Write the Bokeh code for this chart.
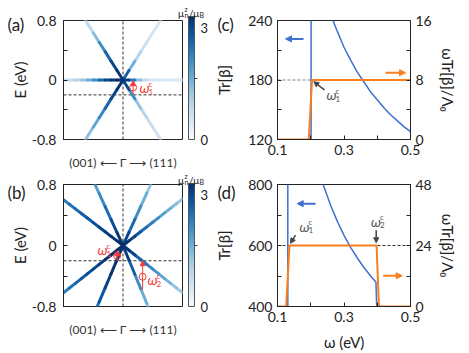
import numpy as np
from bokeh.plotting import figure
from bokeh.models import (ColumnDataSource, LinearColorMapper, ColorBar, FixedTicker,
                          CustomJSTickFormatter, Label, Arrow, NormalHead, LinearAxis, Range1d)
from bokeh.layouts import column, row
from bokeh.transform import transform
from bokeh.embed import file_html
from bokeh.resources import INLINE

FONT = "Lato"
INK = "#222222"
RED = "#f03c3c"
BLUE = "#4070D0"
ORANGE = "#FA7E1E"

# ---------------- data ----------------
k_nodes = [0.0, 0.1, 0.2, 0.3, 0.4, 0.5, 0.6, 0.7, 0.8, 0.9, 1.0]

a_dirs = [-1, -1, -1, 1, 1, 1]
a_slopes = [1.27, -1.27, 0.0, 1.27, -1.27, 0.0]
a_mu = [
    [3.0, 2.9, 2.6, 2.2, 1.6, 1.0, 0.6, 0.5],
    [3.0, 2.9, 2.6, 2.2, 1.8, 1.4, 1.1, 1.0],
    [3.0, 3.0, 2.9, 2.6, 2.1, 1.7, 1.3, 1.0, 0.8, 0.65, 0.6],
    [3.0, 1.9, 1.0, 0.75, 0.6, 0.5, 0.45, 0.45],
    [3.0, 2.4, 1.4, 1.0, 0.8, 0.65, 0.6, 0.6],
    [3.0, 2.7, 1.6, 0.9, 0.6, 0.5, 0.45, 0.4, 0.4, 0.4, 0.4],
]

b_dirs = [-1, -1, -1, -1, 1, 1, 1, 1]
b_slopes = [1.7, 0.6, -0.62, -1.85, 1.72, 0.61, -0.62, -1.9]
b_mu = [
    [3.0, 2.8, 2.5, 2.1, 1.8, 1.6],
    [3.0, 3.0, 2.9, 2.8, 2.7, 2.6, 2.5, 2.4, 2.3, 2.2, 2.1],
    [3.0, 3.0, 3.0, 2.9, 2.8, 2.7, 2.6, 2.5, 2.3, 2.2, 2.0],
    [3.0, 3.0, 2.9, 2.7, 2.4, 2.1],
    [3.0, 2.6, 2.1, 1.7, 1.3, 1.0],
    [3.0, 2.9, 2.7, 2.4, 2.2, 2.0, 1.8, 1.6, 1.4, 1.25, 1.1],
    [3.0, 2.9, 2.6, 2.3, 2.1, 1.9, 1.7, 1.5, 1.3, 1.15, 1.0],
    [3.0, 2.7, 2.2, 1.7, 1.3, 0.9],
]
mu_fermi = -0.2

c_w_edge = [0.201, 0.201]
c_tr_edge = [100, 260]
c_w = [0.262, 0.28, 0.30, 0.32, 0.34, 0.36, 0.38, 0.40, 0.42, 0.44, 0.46, 0.48, 0.50]
c_tr = [244, 229, 213, 200, 188, 178, 168, 160, 152, 145, 139, 133, 128]
c_w_or = [0.1, 0.194, 0.204, 0.5]
c_or = [0, 0, 8, 8]
c_level = 180

d_w_edge = [0.131, 0.131]
d_tr_edge = [380, 820]
d_w = [0.232, 0.24, 0.26, 0.28, 0.30, 0.32, 0.34, 0.36, 0.38, 0.396, 0.399]
d_tr = [819, 792, 731, 679, 633, 594, 559, 528, 500, 480, 380]
d_w_or = [0.1, 0.126, 0.136, 0.398, 0.405, 0.5]
d_or = [0, 0, 24, 24, 0, 0]
d_level = 600

# ---------------- helpers ----------------
blues9 = ['#f7fbff', '#deebf7', '#c6dbef', '#9ecae1', '#6baed6', '#4292c6', '#2171b5', '#08519c', '#08306b']


def make_palette(cols, n=256):
    rgb = np.array([[int(c[i:i + 2], 16) for i in (1, 3, 5)] for c in cols], float)
    t = np.linspace(0, 1, n)
    tp = np.linspace(0, 1, len(cols))
    out = []
    for tt in t:
        r, g, b = (np.interp(tt, tp, rgb[:, j]) for j in range(3))
        out.append('#%02x%02x%02x' % (int(round(r)), int(round(g)), int(round(b))))
    return out


PAL = make_palette(blues9)
mapper = LinearColorMapper(palette=PAL, low=0, high=3)


class Frame:
    def __init__(self, x0, x1, y0, y1, xr, yr):
        self.x0, self.x1, self.y0, self.y1, self.xr, self.yr = x0, x1, y0, y1, xr, yr

    def d(self, X, Y):
        x = self.xr[0] + (X - self.x0) / (self.x1 - self.x0) * (self.xr[1] - self.xr[0])
        y = self.yr[1] - (Y - self.y0) / (self.y1 - self.y0) * (self.yr[1] - self.yr[0])
        return x, y


def txt(p, fr, X, Y, text, size=14, color=INK, style="normal", align="left",
        baseline="middle", angle=0.0):
    x, y = fr.d(X, Y)
    p.add_layout(Label(x=x, y=y, text=text, text_font=FONT, text_font_size=f"{size}px",
                       text_color=color, text_font_style=style, text_align=align,
                       text_baseline=baseline, angle=angle))


def outer_text(p, fr, X, Y, text, size=14, color=INK, style="normal"):
    """Text outside the frame: carried as the title of an invisible 1px colour bar.
    X = left edge of the text, Y = its vertical centre (page pixels)."""
    h = size * 1.2
    cb = ColorBar(color_mapper=mapper, orientation="horizontal", width=1, height=1,
                  padding=0, margin=0,
                  location=(X - fr.x0, fr.y1 - Y - h / 2 - 1 - 0.25 * size),
                  title=text, title_standoff=0, title_text_font=FONT,
                  title_text_font_size=f"{size}px", title_text_color=color,
                  title_text_font_style=style,
                  scale_alpha=0, bar_line_color=None, border_line_color=None,
                  background_fill_alpha=0, ticker=FixedTicker(ticks=[]),
                  major_tick_in=0, major_tick_out=0, label_standoff=0,
                  major_tick_line_color=None, minor_tick_line_color=None,
                  major_label_text_font_size="1px", major_label_text_alpha=0)
    p.add_layout(cb)


def arrow(p, fr, X0, Y0, X1, Y1, color, lw=1.5, hs=6):
    x0, y0 = fr.d(X0, Y0)
    x1, y1 = fr.d(X1, Y1)
    p.add_layout(Arrow(end=NormalHead(size=hs, fill_color=color, line_color=color, line_width=1),
                       x_start=x0, y_start=y0, x_end=x1, y_end=y1,
                       line_color=color, line_width=lw))


def omega_c(p, fr, X, Y, idx, color, size=14):
    txt(p, fr, X, Y, "ω", size=size, color=color, style="italic")
    txt(p, fr, X + 9, Y - 4, "c", size=8, color=color)
    txt(p, fr, X + 9, Y + 4, idx, size=8, color=color)


FMT = CustomJSTickFormatter(code="return tick.toString()")


def style_axis(ax, ticks, minor, standoff=5):
    ax.ticker = FixedTicker(ticks=ticks, minor_ticks=minor)
    ax.formatter = FMT
    ax.major_tick_in = 4
    ax.major_tick_out = 0
    ax.minor_tick_in = 4
    ax.minor_tick_out = 0
    ax.major_tick_line_color = INK
    ax.minor_tick_line_color = INK
    ax.axis_line_color = INK
    ax.major_label_text_font = FONT
    ax.major_label_text_font_size = "14px"
    ax.major_label_text_color = INK
    ax.major_label_standoff = standoff
    ax.axis_label_text_font = FONT
    ax.axis_label_text_font_size = "15px"
    ax.axis_label_text_font_style = "normal"
    ax.axis_label_text_color = INK


def band_fig(height, top, bottom, dirs, slopes, mus, fr, ty):
    p = figure(width=212, height=height, x_range=Range1d(-1, 1), y_range=Range1d(-0.8, 0.8),
               toolbar_location=None, tools="", output_backend="svg",
               min_border_left=63, min_border_right=30, min_border_top=top, min_border_bottom=bottom)
    p.grid.visible = False
    p.outline_line_color = INK
    style_axis(p.yaxis[0], [-0.8, 0, 0.8], [-0.4, 0.4], standoff=7)
    p.yaxis[0].axis_label = "E (eV)"
    p.yaxis[0].axis_label_standoff = 0
    xa = p.xaxis[0]
    xa.ticker = FixedTicker(ticks=[0])
    xa.formatter = CustomJSTickFormatter(code="return '(001) \u27f5 \u0393 \u27f6 (111)'")
    xa.axis_line_color = None
    xa.major_tick_line_color = None
    xa.minor_tick_line_color = None
    xa.major_label_standoff = 9
    xa.major_label_text_font = FONT
    xa.major_label_text_font_size = "12px"
    xa.major_label_text_color = "#333333"
    p.segment(x0=[0, -1], y0=[-0.8, mu_fermi], x1=[0, 1], y1=[0.8, mu_fermi],
              line_color="#333333", line_dash="3 2", line_width=1)
    x0, y0, x1, y1, m = [], [], [], [], []
    for d, s, mu in zip(dirs, slopes, mus):
        for i in range(len(mu) - 1):
            ka, kb = k_nodes[i], k_nodes[i + 1]
            x0.append(d * ka); y0.append(s * ka); x1.append(d * kb); y1.append(s * kb)
            m.append(0.5 * (mu[i] + mu[i + 1]))
    order = np.argsort(m, kind="stable")
    src = ColumnDataSource(dict(x0=np.array(x0)[order], y0=np.array(y0)[order],
                                x1=np.array(x1)[order], y1=np.array(y1)[order],
                                mu=np.array(m)[order]))
    p.segment("x0", "y0", "x1", "y1", source=src, line_color=transform("mu", mapper),
              line_width=3, line_cap="round")
    cb = ColorBar(color_mapper=mapper, location=(125, 0), width=6, height=123, padding=0, margin=0,
                  ticker=FixedTicker(ticks=[], minor_ticks=[1.5]), formatter=FMT,
                  major_tick_in=0, major_tick_out=0, minor_tick_in=0, minor_tick_out=3,
                  minor_tick_line_color="#444444",
                  bar_line_color="#555555", border_line_color=None, background_fill_alpha=0,
                  label_standoff=6, major_label_text_font=FONT,
                  major_label_text_font_size="13px", major_label_text_color=INK, title=None)
    p.add_layout(cb)
    outer_text(p, fr, 200, fr.y0 + 5.5, "3", size=13)
    outer_text(p, fr, 200, fr.y1 - 5.5, "0", size=13)
    outer_text(p, fr, 177.5, ty, "μ", size=10)
    outer_text(p, fr, 184, ty - 2.5, "z", size=7)
    outer_text(p, fr, 184, ty + 3, "n", size=7)
    outer_text(p, fr, 188.5, ty, "/μ", size=10)
    outer_text(p, fr, 199, ty + 3, "B", size=7)
    return p


def resp_fig(height, top, bottom, yr, yr2):
    p = figure(width=257, height=height, x_range=Range1d(0.1, 0.5), y_range=Range1d(*yr),
               toolbar_location=None, tools="", output_backend="svg",
               min_border_left=65, min_border_right=59, min_border_top=top, min_border_bottom=bottom)
    p.grid.visible = False
    p.outline_line_color = INK
    p.extra_y_ranges = {"right": Range1d(*yr2)}
    ax2 = LinearAxis(y_range_name="right")
    p.add_layout(ax2, "right")
    return p


# ---------------- panel (a) ----------------
fa = Frame(63, 182, 20, 143, (-1, 1), (-0.8, 0.8))
pa = band_fig(172, 20, 29, a_dirs, a_slopes, a_mu, fa, 13.5)
outer_text(pa, fa, 7, 24, "(a)", size=17)
ka = 0.17
pa.add_layout(Arrow(end=NormalHead(size=5, fill_color=RED, line_color=RED),
                    x_start=ka, y_start=mu_fermi, x_end=ka, y_end=-0.01, line_color=RED, line_width=1))
pa.scatter([ka], [-0.1], marker="circle", size=7, fill_color=None, line_color=RED, line_width=1)
omega_c(pa, fa, 139, 89.5, "1", RED)

# ---------------- panel (b) ----------------
fb = Frame(63, 182, 184, 307, (-1, 1), (-0.8, 0.8))
pb = band_fig(181, 12, 46, b_dirs, b_slopes, b_mu, fb, 177.5)
outer_text(pb, fb, 7, 189, "(b)", size=17)
pb.add_layout(Arrow(end=NormalHead(size=5, fill_color=RED, line_color=RED),
                    x_start=-0.097, y_start=mu_fermi, x_end=-0.097, y_end=-0.07, line_color=RED, line_width=1))
pb.scatter([-0.097], [-0.135], marker="circle", size=7, fill_color=None, line_color=RED, line_width=1)
pb.add_layout(Arrow(end=NormalHead(size=5, fill_color=RED, line_color=RED),
                    x_start=0.33, y_start=-0.58, x_end=0.33, y_end=mu_fermi, line_color=RED, line_width=1))
pb.scatter([0.33], [-0.41], marker="circle", size=7, fill_color=None, line_color=RED, line_width=1)
omega_c(pb, fb, 97, 250, "1", RED)
omega_c(pb, fb, 147, 280, "2", RED)

# ---------------- panel (c) ----------------
fc = Frame(277, 410, 20, 143, (0.1, 0.5), (120, 240))
pc = resp_fig(172, 20, 29, (120, 240), (0, 16))
style_axis(pc.xaxis[0], [0.1, 0.3, 0.5], [0.2, 0.4])
style_axis(pc.yaxis[0], [120, 180, 240], [150, 210])
style_axis(pc.yaxis[1], [0, 8, 16], [4, 12])
pc.line([0.1, 0.5], [c_level, c_level], line_color="#808080", line_dash="3 2", line_width=1)
pc.line(c_w_edge, c_tr_edge, line_color=BLUE, line_width=1.5)
pc.line(c_w, c_tr, line_color=BLUE, line_width=1.5)
pc.line(c_w_or, c_or, y_range_name="right", line_color=ORANGE, line_width=2)

# ---------------- panel (d) ----------------
fd = Frame(277, 410, 184, 307, (0.1, 0.5), (400, 800))
pd = resp_fig(181, 12, 46, (400, 800), (0, 48))
style_axis(pd.xaxis[0], [0.1, 0.3, 0.5], [0.2, 0.4])
style_axis(pd.yaxis[0], [400, 600, 800], [500, 700])
style_axis(pd.yaxis[1], [0, 24, 48], [12, 36])
pd.xaxis[0].axis_label = "ω (eV)"
pd.xaxis[0].axis_label_standoff = 8
pd.line([0.1, 0.5], [d_level, d_level], line_color="#333333", line_dash="3 2", line_width=1)
pd.line(d_w_edge, d_tr_edge, line_color=BLUE, line_width=1.5)
pd.line(d_w, d_tr, line_color=BLUE, line_width=1.5)
pd.line(d_w_or, d_or, y_range_name="right", line_color=ORANGE, line_width=2)

for p in (pc, pd):
    p.yaxis[0].axis_label = "Tr[β]"
    p.yaxis[0].axis_label_standoff = 12
    p.yaxis[1].axis_label = "ωTr[β]/Λ\u2080"
    p.yaxis[1].axis_label_standoff = 4

outer_text(pc, fc, 217, 24, "(c)", size=17)
outer_text(pd, fd, 217, 189, "(d)", size=17)

arrow(pc, fc, 303, 39, 285, 39, BLUE, lw=2, hs=6)
arrow(pc, fc, 385, 74, 405, 74, ORANGE, lw=2, hs=6)
arrow(pc, fc, 324, 91.7, 313.3, 83.3, "#444444", lw=1.5, hs=5)
omega_c(pc, fc, 326, 97, "1", "#555555")

arrow(pd, fd, 315, 203.3, 296.7, 203.3, BLUE, lw=2, hs=6)
arrow(pd, fd, 382.7, 276, 401.7, 276, ORANGE, lw=2, hs=6)
arrow(pd, fd, 295, 235, 290, 243.3, "#444444", lw=1.5, hs=5)
omega_c(pd, fd, 299, 226, "1", "#555555")
arrow(pd, fd, 375.7, 230, 375.7, 242.7, "#444444", lw=1.5, hs=5)
omega_c(pd, fd, 370.5, 221, "2", "#555555")

layout = column(row(pa, pc), row(pb, pd))
open("out.html", "w").write(file_html(layout, INLINE))
